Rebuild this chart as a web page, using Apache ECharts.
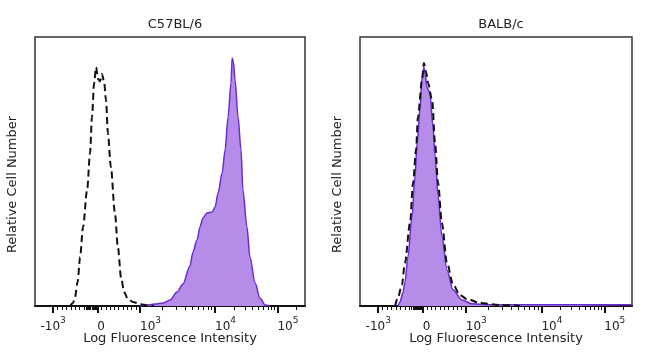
<!DOCTYPE html>
<html>
<head>
<meta charset="utf-8">
<script src="https://cdn.jsdelivr.net/npm/echarts@6/dist/echarts.min.js"></script>
<style>
html, body { margin: 0; padding: 0; background: #fff; }
#main { width: 650px; height: 353px; }
</style>
</head>
<body>
<div id="main"></div>
<script>
// panel titles
var panelTitles = ['C57BL/6', 'BALB/c'];

// axis ticks (fluorescence values) and their labels: [base, exponent]
var tickValues = [-1000, 0, 1000, 10000, 100000];
var tickLabels = [['-10', '3'], ['0', ''], ['10', '3'], ['10', '4'], ['10', '5']];

// histograms: [display channel 0-1000, relative cell number 0-100]
var c57Control = [
    [130, 0], [141, 1.1], [148, 3.3], [158, 9], [167, 18.2], [178, 29.4], [193, 43.1],
    [204, 56.9], [211, 70.3], [219, 82.9], [226, 88.8], [233, 84.5], [241, 83.5],
    [248, 86.2], [256, 83.3], [263, 76.6], [270, 64.3], [281, 51.7], [296, 34.6],
    [307, 21.9], [319, 10.4], [330, 5.2], [344, 2.6], [363, 1.5], [389, 0.7], [419, 0.2], [440, 0]
];
var c57Stained = [
    [389, 0], [419, 0.4], [444, 0.7], [474, 1.1], [500, 2.2], [526, 5.2], [548, 8.2],
    [574, 14.9], [585, 20.1], [600, 24.5], [611, 29.4], [622, 32.7], [637, 34.6],
    [656, 34.9], [667, 36.8], [678, 42], [693, 49.4], [704, 58], [715, 70.3], [726, 82.9],
    [730, 92.2], [735, 90.7], [741, 84], [752, 70.3], [763, 58], [770, 43.1], [785, 29.4],
    [796, 18.2], [815, 8.6], [833, 3], [852, 0.4], [870, 0]
];
var balbControl = [
    [129, 0], [140, 3.3], [154, 7.8], [165, 15.9], [184, 30.9], [195, 45.7], [206, 58],
    [213, 70.3], [228, 84], [235, 90.3], [243, 87], [250, 82.9], [265, 76.6], [276, 60.6],
    [287, 45.7], [301, 30.9], [320, 15.9], [342, 8], [368, 4], [393, 2.6], [441, 1.1],
    [515, 0.4], [588, 0]
];
var balbStained = [
    [140, 0], [147, 1.5], [158, 5], [165, 8.6], [176, 18.2], [191, 33.1], [202, 48],
    [210, 60.6], [221, 73.6], [228, 85.1], [235, 88.8], [240, 86], [246, 81.4], [257, 79.2],
    [268, 66.9], [276, 55.8], [287, 40.9], [301, 26], [320, 13.4], [342, 6], [375, 2.2],
    [412, 0.8], [467, 0.5], [600, 0.5], [800, 0.5], [1000, 0.5]
];

// biexponential-like display scale: fluorescence value -> display channel
function toChannel(v) {
    if (v < 0) return 231 + v * 0.164;
    if (v <= 1000) return 231 + v * 0.158;
    if (v <= 10000) return 389 + Math.log10(v / 1000) * 278;
    return 667 + Math.log10(v / 10000) * 231;
}

var majorPos = tickValues.map(toChannel);
var minorPos = [];
for (var v = -1000; v <= 1000; v += 100) minorPos.push(toChannel(v));
for (v = -250; v < 0; v += 25) minorPos.push(toChannel(v));
for (var d = 1000; d <= 100000; d *= 10) {
    for (var k = 2; k <= 9; k++) {
        var c = toChannel(k * d);
        if (c <= 1000) minorPos.push(c);
    }
}

function labelFor(pos) {
    for (var i = 0; i < majorPos.length; i++) {
        if (Math.abs(majorPos[i] - pos) < 0.5) {
            var t = tickLabels[i];
            return '{b|' + t[0] + '}' + (t[1] ? '{s|' + t[1] + '}' : '');
        }
    }
    return '';
}

var font = 'DejaVu Sans';
var textColor = '#222';
var labelRich = {
    b: {fontSize: 12, lineHeight: 17, verticalAlign: 'bottom', color: textColor, fontFamily: font},
    s: {fontSize: 9, lineHeight: 10, verticalAlign: 'top', color: textColor, fontFamily: font}
};
var grids = [
    {left: 35, top: 37, width: 270, height: 269},
    {left: 360, top: 37, width: 272, height: 269}
];

var option = {
    animation: false,
    backgroundColor: '#fff',
    title: [],
    grid: [],
    xAxis: [],
    yAxis: [],
    series: []
};

grids.forEach(function (g, i) {
    option.title.push({
        text: panelTitles[i],
        left: g.left + g.width / 2,
        top: 13,
        textAlign: 'center',
        textStyle: {fontSize: 13, fontWeight: 'normal', color: textColor, fontFamily: font}
    });
    option.grid.push({
        left: g.left, top: g.top, width: g.width, height: g.height,
        outerBoundsMode: 'none', containLabel: false,
        show: true, borderColor: '#333', borderWidth: 1.5
    });
    // major ticks + labels
    option.xAxis.push({
        type: 'value', gridIndex: i, min: 0, max: 1000, position: 'bottom',
        axisLine: {show: true, lineStyle: {color: '#111', width: 2}},
        axisTick: {show: true, customValues: majorPos, length: 7, lineStyle: {color: '#111', width: 2}},
        axisLabel: {
            customValues: majorPos.slice(1), formatter: labelFor, align: 'left', margin: 10,
            rich: labelRich
        },
        splitLine: {show: false},
        name: 'Log Fluorescence Intensity', nameLocation: 'middle', nameGap: 26,
        nameMoveOverlap: false,
        nameTextStyle: {fontSize: 13, color: textColor, fontFamily: font}
    });
    // minor ticks, plus the negative label
    option.xAxis.push({
        type: 'value', gridIndex: i, min: 0, max: 1000, position: 'bottom',
        axisLine: {show: false},
        axisTick: {show: true, customValues: minorPos, length: 4, lineStyle: {color: '#111', width: 1}},
        axisLabel: {
            customValues: [majorPos[0]], formatter: labelFor, margin: 10,
            rich: labelRich
        },
        splitLine: {show: false}
    });
    option.yAxis.push({
        type: 'value', gridIndex: i, min: 0, max: 100,
        axisLine: {show: false}, axisTick: {show: false}, axisLabel: {show: false},
        splitLine: {show: false},
        name: 'Relative Cell Number', nameLocation: 'middle', nameGap: 16,
        nameTextStyle: {fontSize: 13, color: textColor, fontFamily: font, padding: [0, 26, 0, 0]}
    });
});

var stained = [c57Stained, balbStained];
var control = [c57Control, balbControl];
for (var p = 0; p < 2; p++) {
    option.series.push({
        type: 'line', xAxisIndex: 2 * p, yAxisIndex: p, data: stained[p],
        showSymbol: false, smooth: 0.3, smoothMonotone: 'x', z: 2,
        lineStyle: {color: '#6a2bd4', width: 1.5},
        areaStyle: {color: '#b58ce8', opacity: 1}
    });
    option.series.push({
        type: 'line', xAxisIndex: 2 * p, yAxisIndex: p, data: control[p],
        showSymbol: false, smooth: 0.3, smoothMonotone: 'x', z: 3,
        lineStyle: {color: '#111', width: 2, type: [7, 4]}
    });
}

var myChart = echarts.init(document.getElementById('main'));
myChart.setOption(option);
</script>
</body>
</html>
